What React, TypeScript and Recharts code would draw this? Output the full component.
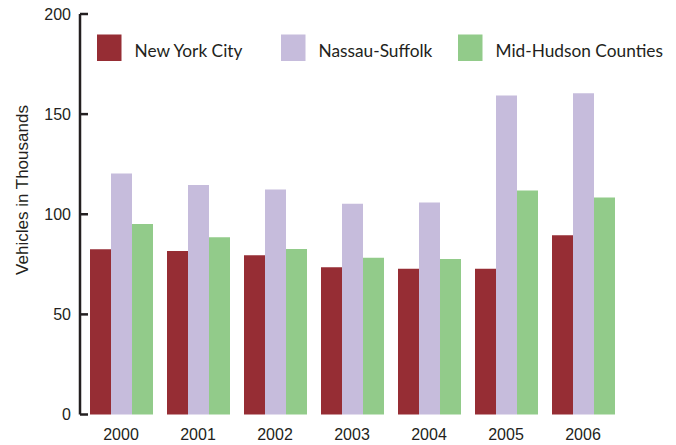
import * as React from "react";
import { BarChart, Bar, XAxis, YAxis, Legend } from "recharts";

const years = ["2000", "2001", "2002", "2003", "2004", "2005", "2006"];
const newYorkCity = [82.5, 81.6, 79.5, 73.5, 72.8, 72.8, 89.5];
const nassauSuffolk = [120.4, 114.6, 112.4, 105.2, 105.9, 159.3, 160.4];
const midHudson = [95.1, 88.5, 82.6, 78.3, 77.7, 111.9, 108.4];
const yTicks = [0, 50, 100, 150, 200];

const SERIES = [
  { key: "nyc", name: "New York City", color: "#962d34" },
  { key: "nassau", name: "Nassau-Suffolk", color: "#c6bcdc" },
  { key: "mid", name: "Mid-Hudson Counties", color: "#92cb8a" },
];

// legend item x offsets (square left edge)
const LEGEND_X = [97, 281, 458];

const INK = "#231f20";
const AXIS_FONT = "'Liberation Sans', Arial, sans-serif";
const LEGEND_FONT = "Lato, 'Open Sans', sans-serif";

const data = years.map((y, i) => ({
  year: y,
  nyc: newYorkCity[i],
  nassau: nassauSuffolk[i],
  mid: midHudson[i],
}));

function YTick(props: any) {
  const { x, y, payload } = props;
  // x is label anchor: axis is at x + 10
  return (
    <g>
      <line x1={x + 9} x2={x + 17} y1={y} y2={y} stroke={INK} strokeWidth={2.5} />
      <text
        x={x}
        y={y}
        textAnchor="end"
        dominantBaseline="central"
        fontFamily={AXIS_FONT}
        fontSize={16}
        fill={INK}
      >
        {payload.value}
      </text>
    </g>
  );
}

function LegendBox() {
  return (
    <svg width={676} height={70} style={{ display: "block" }}>
      {SERIES.map((s, i) => (
        <g key={s.key}>
          <rect x={LEGEND_X[i]} y={34.5} width={24.5} height={26.5} fill={s.color} />
          <text
            x={LEGEND_X[i] + 37.5}
            y={56.5}
            fontFamily={LEGEND_FONT}
            fontSize={17.3}
            fill={INK}
          >
            {s.name}
          </text>
        </g>
      ))}
    </svg>
  );
}

function YLabel() {
  return (
    <text
      x={28}
      y={190}
      transform="rotate(-90 28 190)"
      textAnchor="middle"
      fontFamily={AXIS_FONT}
      fontSize={17}
      fill={INK}
    >
      Vehicles in Thousands
    </text>
  );
}

export default function App() {
  return (
    <div style={{ position: "absolute", left: 0, top: 0, width: 676, height: 445, background: "#fff" }}>
      <BarChart
        width={676}
        height={445}
        data={data}
        margin={{ top: 14, right: 54.5, bottom: 0, left: 0 }}
        barCategoryGap={7.5}
        barGap={0}
      >
        <XAxis
          dataKey="year"
          axisLine={false}
          tickLine={false}
          tickSize={0}
          tickMargin={14}
          height={30.5}
          padding={{ left: 2.5, right: 0 }}
          tick={{ fontFamily: AXIS_FONT, fontSize: 16, fill: INK }}
          interval={0}
        />
        <YAxis
          width={80}
          domain={[0, 200]}
          ticks={yTicks}
          interval={0}
          tickSize={0}
          tickMargin={9}
          tickLine={false}
          axisLine={{ stroke: INK, strokeWidth: 2.5 }}
          tick={<YTick />}
          label={{ content: () => <YLabel /> }}
        />
        <Legend
          verticalAlign="middle"
          align="center"
          layout="horizontal"
          wrapperStyle={{ top: 0, left: 0, width: 676, height: 70 }}
          content={() => <LegendBox />}
        />
        {SERIES.map((s) => (
          <Bar
            key={s.key}
            dataKey={s.key}
            name={s.name}
            fill={s.color}
            isAnimationActive={false}
          />
        ))}
      </BarChart>
    </div>
  );
}
